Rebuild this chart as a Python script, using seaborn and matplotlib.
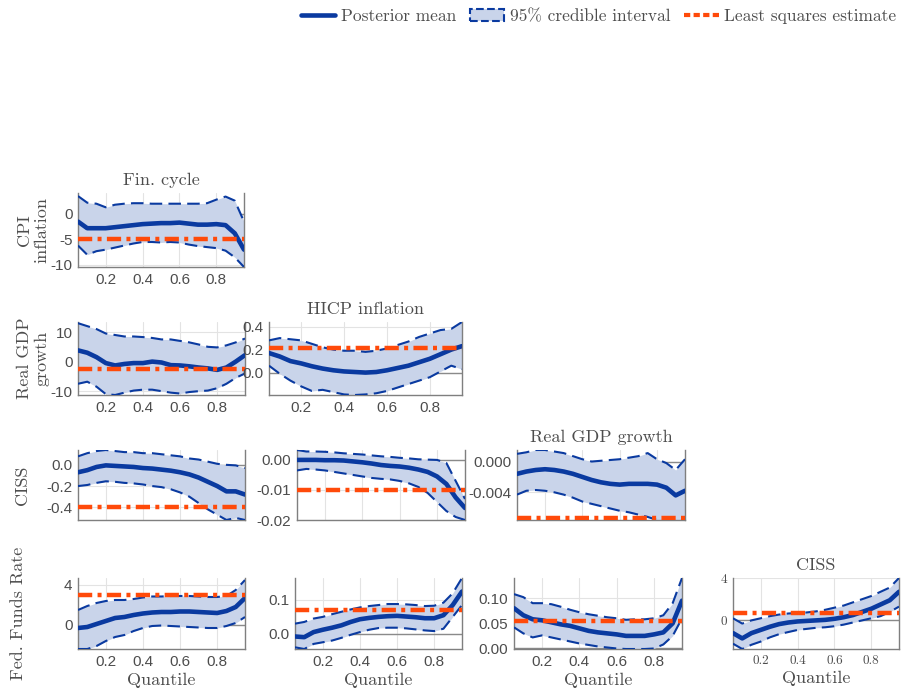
import numpy as np
import pandas as pd
import seaborn as sns
import matplotlib.pyplot as plt
from matplotlib.lines import Line2D
from matplotlib.patches import Patch

# quantile grid
q = [0.05, 0.10, 0.15, 0.20, 0.25, 0.30, 0.35, 0.40, 0.45, 0.50,
     0.55, 0.60, 0.65, 0.70, 0.75, 0.80, 0.85, 0.90, 0.95]

col_titles = ['Fin. cycle', 'HICP inflation', 'Real GDP growth', 'CISS']
row_labels = ['CPI\ninflation', 'Real GDP\ngrowth', 'CISS', 'Fed. Funds Rate']

# row 1: CPI inflation <- Fin. cycle
cpi_fin_mean = [-1.5, -2.8, -2.8, -2.8, -2.6, -2.4, -2.2, -2.0, -1.9, -1.8, -1.8, -1.7, -1.9, -2.1, -2.1, -2.0, -2.2, -3.8, -7.0]
cpi_fin_hi = [3.5, 2.2, 2.0, 1.3, 1.8, 2.0, 2.1, 2.1, 2.0, 2.0, 2.0, 2.0, 2.0, 2.0, 2.1, 2.8, 3.4, 2.6, -1.5]
cpi_fin_lo = [-6.2, -8.0, -7.3, -7.0, -6.6, -6.2, -5.8, -5.5, -5.5, -5.6, -5.5, -5.6, -6.0, -6.3, -6.5, -6.7, -7.2, -8.5, -10.4]
cpi_fin_ls = -5.0

# row 2: Real GDP growth <- Fin. cycle, HICP inflation
gdp_fin_mean = [3.8, 3.0, 1.5, -0.5, -1.3, -0.8, -0.5, -0.5, 0.0, -0.3, -1.2, -1.3, -1.6, -2.0, -2.3, -2.8, -2.0, 0.0, 2.2]
gdp_fin_hi = [13.0, 12.0, 11.0, 9.5, 9.0, 8.5, 8.5, 8.3, 8.0, 7.5, 7.5, 7.0, 6.5, 5.8, 5.0, 4.8, 5.5, 6.5, 7.8]
gdp_fin_lo = [-7.5, -6.8, -8.5, -11.0, -11.3, -10.5, -9.8, -9.5, -9.5, -10.0, -10.5, -10.8, -10.3, -10.0, -9.8, -9.0, -7.5, -5.5, -4.0]
gdp_fin_ls = -2.5

gdp_hicp_mean = [0.17, 0.14, 0.10, 0.08, 0.055, 0.035, 0.02, 0.01, 0.005, 0.0, 0.005, 0.02, 0.04, 0.06, 0.09, 0.12, 0.16, 0.20, 0.23]
gdp_hicp_hi = [0.28, 0.30, 0.29, 0.28, 0.25, 0.22, 0.20, 0.19, 0.19, 0.18, 0.19, 0.21, 0.24, 0.27, 0.31, 0.34, 0.37, 0.38, 0.44]
gdp_hicp_lo = [0.06, -0.01, -0.07, -0.12, -0.16, -0.15, -0.17, -0.19, -0.195, -0.19, -0.18, -0.16, -0.13, -0.10, -0.07, -0.04, 0.01, 0.06, 0.03]
gdp_hicp_ls = 0.21

# row 3: CISS <- Fin. cycle, HICP inflation, Real GDP growth
ciss_fin_mean = [-0.07, -0.05, -0.02, -0.005, -0.01, -0.015, -0.02, -0.03, -0.035, -0.045, -0.055, -0.07, -0.09, -0.12, -0.16, -0.20, -0.25, -0.25, -0.28]
ciss_fin_hi = [0.08, 0.11, 0.13, 0.14, 0.13, 0.12, 0.12, 0.11, 0.11, 0.10, 0.09, 0.08, 0.06, 0.05, 0.03, 0.01, 0.0, -0.005, -0.03]
ciss_fin_lo = [-0.20, -0.19, -0.17, -0.155, -0.16, -0.17, -0.175, -0.185, -0.20, -0.21, -0.23, -0.26, -0.30, -0.36, -0.42, -0.47, -0.52, -0.50, -0.52]
ciss_fin_ls = -0.4

ciss_hicp_mean = [0.0, 0.0, 0.0, -0.0001, -0.0001, -0.0002, -0.0005, -0.0008, -0.0012, -0.0017, -0.002, -0.0022, -0.0026, -0.0032, -0.004, -0.0055, -0.008, -0.0125, -0.016]
ciss_hicp_hi = [0.0033, 0.0028, 0.0028, 0.0027, 0.0025, 0.0022, 0.002, 0.0018, 0.0015, 0.0012, 0.001, 0.0007, 0.0005, 0.0002, 0.0001, 0.0, -0.001, -0.007, -0.013]
ciss_hicp_lo = [-0.0035, -0.003, -0.0032, -0.0035, -0.004, -0.0045, -0.005, -0.0055, -0.006, -0.0063, -0.0065, -0.007, -0.0078, -0.009, -0.011, -0.014, -0.017, -0.019, -0.02]
ciss_hicp_ls = -0.01

ciss_gdp_mean = [-0.0016, -0.0013, -0.0011, -0.0010, -0.0011, -0.0013, -0.0016, -0.002, -0.0024, -0.0027, -0.0029, -0.003, -0.0029, -0.0029, -0.0029, -0.003, -0.0034, -0.0044, -0.0038]
ciss_gdp_hi = [0.001, 0.0012, 0.0015, 0.0015, 0.0013, 0.0011, 0.0007, 0.0003, 0.0, 0.0001, 0.0002, 0.0003, 0.0005, 0.0007, 0.0011, 0.0003, -0.0002, -0.0011, 0.0003]
ciss_gdp_lo = [-0.0043, -0.0038, -0.0037, -0.0038, -0.004, -0.0043, -0.0047, -0.0052, -0.0055, -0.0058, -0.0061, -0.0064, -0.0066, -0.0069, -0.0072, -0.0076, -0.0076, -0.0076, -0.0076]
ciss_gdp_ls = -0.0073

# row 4: Fed. Funds Rate <- Fin. cycle, HICP inflation, Real GDP growth, CISS
ffr_fin_mean = [-0.3, -0.2, 0.1, 0.4, 0.7, 0.8, 1.0, 1.15, 1.25, 1.3, 1.3, 1.35, 1.35, 1.3, 1.25, 1.2, 1.4, 1.8, 2.7]
ffr_fin_hi = [1.5, 1.9, 2.2, 2.4, 2.5, 2.5, 2.6, 2.75, 2.85, 2.85, 2.9, 2.9, 2.9, 2.85, 2.8, 2.8, 2.9, 3.5, 4.5]
ffr_fin_lo = [-2.4, -2.4, -2.1, -1.6, -1.2, -1.0, -0.6, -0.3, -0.1, -0.05, -0.1, -0.15, -0.2, -0.25, -0.3, -0.3, -0.1, 0.2, 0.8]
ffr_fin_ls = 3.0

ffr_hicp_mean = [-0.008, -0.01, 0.005, 0.012, 0.018, 0.025, 0.035, 0.043, 0.047, 0.05, 0.052, 0.053, 0.051, 0.049, 0.046, 0.046, 0.055, 0.085, 0.125]
ffr_hicp_hi = [0.03, 0.035, 0.045, 0.05, 0.058, 0.065, 0.072, 0.078, 0.082, 0.085, 0.088, 0.088, 0.087, 0.085, 0.082, 0.083, 0.092, 0.12, 0.165]
ffr_hicp_lo = [-0.04, -0.045, -0.03, -0.025, -0.02, -0.012, -0.003, 0.005, 0.012, 0.017, 0.018, 0.018, 0.016, 0.013, 0.01, 0.008, 0.015, 0.05, 0.085]
ffr_hicp_ls = 0.07

ffr_gdp_mean = [0.08, 0.066, 0.058, 0.056, 0.052, 0.048, 0.045, 0.04, 0.035, 0.032, 0.03, 0.028, 0.025, 0.025, 0.025, 0.028, 0.032, 0.05, 0.095]
ffr_gdp_hi = [0.108, 0.102, 0.09, 0.09, 0.088, 0.083, 0.077, 0.072, 0.068, 0.065, 0.062, 0.06, 0.057, 0.058, 0.058, 0.06, 0.066, 0.09, 0.14]
ffr_gdp_lo = [0.042, 0.03, 0.022, 0.026, 0.022, 0.018, 0.014, 0.01, 0.007, 0.004, 0.002, 0.0, -0.001, -0.001, -0.001, 0.0, 0.008, 0.025, 0.06]
ffr_gdp_ls = 0.055

ffr_ciss_mean = [-1.2, -1.7, -1.2, -0.9, -0.6, -0.35, -0.2, -0.1, -0.05, 0.0, 0.05, 0.15, 0.3, 0.5, 0.8, 1.1, 1.5, 1.9, 2.7]
ffr_ciss_hi = [0.2, -0.3, 0.0, 0.2, 0.4, 0.55, 0.65, 0.7, 0.75, 0.85, 1.0, 1.2, 1.4, 1.7, 2.0, 2.3, 2.7, 3.1, 4.0]
ffr_ciss_lo = [-2.2, -2.7, -2.3, -2.0, -1.6, -1.3, -1.1, -0.9, -0.8, -0.7, -0.65, -0.55, -0.4, -0.2, 0.0, 0.2, 0.4, 0.8, 1.3]
ffr_ciss_ls = 0.7

panels = {
    (0, 0): (cpi_fin_mean, cpi_fin_lo, cpi_fin_hi, cpi_fin_ls),
    (1, 0): (gdp_fin_mean, gdp_fin_lo, gdp_fin_hi, gdp_fin_ls),
    (1, 1): (gdp_hicp_mean, gdp_hicp_lo, gdp_hicp_hi, gdp_hicp_ls),
    (2, 0): (ciss_fin_mean, ciss_fin_lo, ciss_fin_hi, ciss_fin_ls),
    (2, 1): (ciss_hicp_mean, ciss_hicp_lo, ciss_hicp_hi, ciss_hicp_ls),
    (2, 2): (ciss_gdp_mean, ciss_gdp_lo, ciss_gdp_hi, ciss_gdp_ls),
    (3, 0): (ffr_fin_mean, ffr_fin_lo, ffr_fin_hi, ffr_fin_ls),
    (3, 1): (ffr_hicp_mean, ffr_hicp_lo, ffr_hicp_hi, ffr_hicp_ls),
    (3, 2): (ffr_gdp_mean, ffr_gdp_lo, ffr_gdp_hi, ffr_gdp_ls),
    (3, 3): (ffr_ciss_mean, ffr_ciss_lo, ffr_ciss_hi, ffr_ciss_ls),
}

# axis settings: ylim, yticks, tick format
axis_cfg = {
    (0, 0): ((-10.4, 4.1), [-10, -5, 0], '%g'),
    (1, 0): ((-11.3, 13.4), [-10, 0, 10], '%g'),
    (1, 1): ((-0.195, 0.44), [0.0, 0.2, 0.4], '%.1f'),
    (2, 0): ((-0.52, 0.14), [-0.4, -0.2, 0.0], '%.1f'),
    (2, 1): ((-0.02, 0.0033), [-0.02, -0.01, 0.0], '%.2f'),
    (2, 2): ((-0.0076, 0.0015), [-0.004, 0.0], '%.3f'),
    (3, 0): ((-2.4, 4.7), [0, 4], '%g'),
    (3, 1): ((-0.045, 0.165), [0.0, 0.1], '%.1f'),
    (3, 2): ((-0.001, 0.14), [0.0, 0.05, 0.10], '%.2f'),
    (3, 3): ((-2.7, 4.0), [0, 4], '%g'),
}

# axes boxes in pixels: left, right, top, bottom
W, H = 901, 691
boxes = {
    (0, 0): (78, 244, 193, 267),
    (1, 0): (78, 245, 322, 395),
    (1, 1): (269, 462, 322, 395),
    (2, 0): (78, 245, 450, 520),
    (2, 1): (297, 465, 450, 520),
    (2, 2): (517, 685, 450, 520),
    (3, 0): (78, 245, 578, 649),
    (3, 1): (295, 462, 578, 649),
    (3, 2): (514, 682, 578, 649),
    (3, 3): (733, 899, 578, 649),
}
# right edge of each row label, in axes fraction of the first column
label_x = [-0.17, -0.17, -0.29, -0.31]

sns.set_style('white')
plt.rcParams['axes.unicode_minus'] = False
SERIF = ['cmr10', 'DejaVu Serif']
SANS = ['Liberation Sans', 'DejaVu Sans']

BLUE = '#0a3aa0'
FILL = '#c9d4ea'
ORANGE = '#ff4a0a'
TXT = '#4d4d4d'
AX = '#7f7f7f'

fig = plt.figure(figsize=(W / 100, H / 100), dpi=100)

for (r, c), (mean, lo, hi, ls) in panels.items():
    L, R, T, B = boxes[(r, c)]
    ax = fig.add_axes([L / W, 1 - B / H, (R - L) / W, (B - T) / H])
    df = pd.DataFrame({'q': q, 'mean': mean, 'lo': lo, 'hi': hi})
    ylim, yt, fmt = axis_cfg[(r, c)]

    ax.grid(True, color='#e3e3e3', lw=0.8, zorder=0)
    ax.set_axisbelow(True)
    ax.axhline(0, color='#8a8a8a', lw=1.0, zorder=1)
    ax.fill_between(df['q'], df['lo'], df['hi'], color=FILL, lw=0, zorder=2)
    sns.lineplot(data=df, x='q', y='hi', ax=ax, color=BLUE, lw=1.5, zorder=3)
    sns.lineplot(data=df, x='q', y='lo', ax=ax, color=BLUE, lw=1.5, zorder=3)
    for ln in ax.lines[-2:]:
        ln.set_dashes((6, 3))
    sns.lineplot(data=df, x='q', y='mean', ax=ax, color=BLUE, lw=3.3, zorder=4)
    ax.axhline(ls, color=ORANGE, lw=3.2, zorder=5, linestyle=(0, (3.2, 1.2, 0.9, 1.2)))

    ax.set_xlim(0.05, 0.95)
    ax.set_ylim(*ylim)
    ax.set_xticks([0.2, 0.4, 0.6, 0.8])
    ax.set_yticks(yt)
    ax.set_yticklabels([fmt % v for v in yt])
    if r == 2:
        ax.set_xticklabels([])
    else:
        ax.set_xticklabels(['0.2', '0.4', '0.6', '0.8'])

    ax.tick_params(direction='in', length=3, width=0.8, colors=AX, labelcolor=TXT,
                   labelsize=11, pad=4)
    fam = SERIF if (r, c) == (3, 3) else SANS
    for t in ax.get_xticklabels() + ax.get_yticklabels():
        t.set_family(fam)
        if (r, c) == (3, 3):
            t.set_fontsize(9.5)

    for s in ['left', 'bottom', 'right']:
        ax.spines[s].set_color(AX)
        ax.spines[s].set_linewidth(1.0)
    ax.spines['top'].set_visible(False)

    ax.set_xlabel('Quantile' if r == 3 else '', family=SERIF, fontsize=13, color=TXT, labelpad=3)
    ax.set_ylabel('')
    if r == c:
        ax.set_title(col_titles[c], family=SERIF, fontsize=13, color=TXT, pad=6)
    if c == 0:
        ax.set_ylabel(row_labels[r], family=SERIF, fontsize=13, color=TXT, linespacing=1.2)
        ax.yaxis.set_label_coords(label_x[r], 0.5)

handles = [
    Line2D([], [], color=BLUE, lw=3.3),
    Patch(facecolor=FILL, edgecolor=BLUE, linestyle='--', lw=1.5),
    Line2D([], [], color=ORANGE, lw=3, linestyle=(0, (1.5, 0.8))),
]
labels = ['Posterior mean', '95% credible interval', 'Least squares estimate']
fig.legend(handles, labels, loc='upper right', bbox_to_anchor=(1.012, 1.01), ncol=3,
           frameon=False, prop={'family': SERIF, 'size': 12.5}, labelcolor=TXT,
           handlelength=2.0, handletextpad=0.3, columnspacing=0.8)

fig.savefig('out.png', dpi=100)
